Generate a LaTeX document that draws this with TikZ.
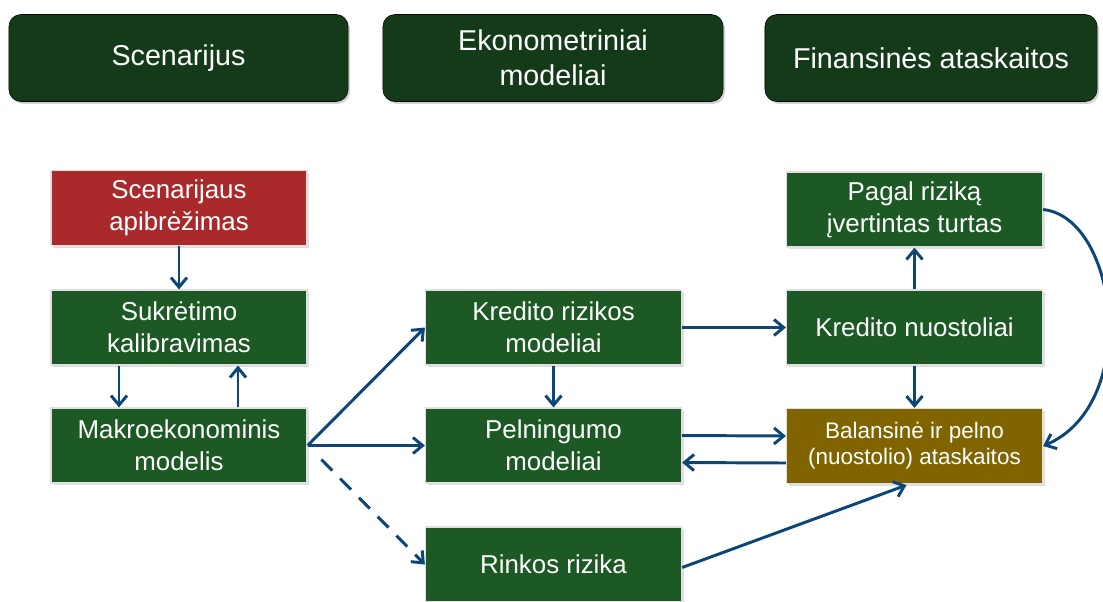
\documentclass[tikz,border=0pt]{standalone}
\usepackage{fontspec}
\setmainfont{Liberation Sans}
\usetikzlibrary{arrows.meta,shadows,calc}
\definecolor{headgreen}{RGB}{20,58,25}
\definecolor{boxgreen}{RGB}{28,89,36}
\definecolor{boxred}{RGB}{170,42,44}
\definecolor{boxgold}{RGB}{128,100,0}
\definecolor{arrblue}{RGB}{12,70,120}
\begin{document}
\begin{tikzpicture}[x=.025cm,y=-.025cm,
    head/.style={draw=black,fill=headgreen,rounded corners=.3cm,text=white,align=center,
      minimum height=2.175cm,inner sep=0pt,font=\fontsize{20.4}{25}\selectfont,
      drop shadow={opacity=.35,shadow xshift=.05cm,shadow yshift=-.06cm}},
    box/.style={draw=black!12,line width=.8pt,fill=boxgreen,text=white,align=center,
      minimum width=6.4cm,minimum height=1.875cm,inner sep=0pt,
      font=\fontsize{18.4}{22.5}\selectfont,
      drop shadow={opacity=.25,shadow xshift=.06cm,shadow yshift=-.06cm}},
    link/.style={draw=arrblue,line width=2.1pt,-{Straight Barb[length=.24cm,width=.4cm,line width=2.1pt]}}]
  \useasboundingbox (0,0) rectangle (1103,601);
  % column titles
  \node[head,minimum width=8.475cm] (hscen) at (178.5,58) {Scenarijus};
  \node[head,minimum width=8.5cm] (hekon) at (553,58) {Ekonometriniai\\modeliai};
  \node[head,minimum width=8.3cm] (hfin) at (931,58) {Finansinės ataskaitos};
  % left column
  \node[box,fill=boxred] (scen) at (179,208) {Scenarijaus\\apibrėžimas};
  \node[box] (sukr) at (179,327.5) {Sukrėtimo\\kalibravimas};
  \node[box] (makro) at (179,445.5) {Makroekonominis\\modelis};
  % middle column
  \node[box] (kredR) at (553.5,327.5) {Kredito rizikos\\modeliai};
  \node[box] (pelning) at (553.5,445.5) {Pelningumo\\modeliai};
  \node[box] (rinkos) at (553.5,564.5) {Rinkos rizika};
  % right column
  \node[box] (pagal) at (914.5,209.5) {Pagal riziką\\įvertintas turtas};
  \node[box] (kredN) at (914.5,327.5) {Kredito nuostoliai};
  \node[box,fill=boxgold,font=\fontsize{16}{18.5}\selectfont] (balans) at (914.5,446) {Balansinė ir pelno\\(nuostolio) ataskaitos};
  % arrows
  \draw[link] (scen) -- (sukr);
  \draw[link] ($(sukr.south)+(-60,0)$) -- ($(makro.north)+(-60,0)$);
  \draw[link] ($(makro.north)+(59,0)$) -- ($(sukr.south)+(59,0)$);
  \draw[link] (makro.east) -- (kredR.west);
  \draw[link] (makro.east) -- (pelning.west);
  \draw[link,dash pattern=on 11pt off 8pt,shorten <=14] (makro.east) -- (rinkos.west);
  \draw[link] (kredR) -- (pelning);
  \draw[link] (kredR) -- (kredN);
  \draw[link] (kredN) -- (pagal);
  \draw[link] (kredN) -- (balans);
  \draw[link] ($(pelning.east)+(0,-10)$) -- ($(balans.west)+(0,-10)$);
  \draw[link] ($(balans.west)+(0,17)$) -- ($(pelning.east)+(0,17)$);
  \draw[link] ($(rinkos.east)+(0,3)$) -- ($(balans.south)+(-8,1)$);
  \draw[link] (pagal.east) .. controls +(75,8) and +(98,-42) .. (balans.east);
\end{tikzpicture}
\end{document}
